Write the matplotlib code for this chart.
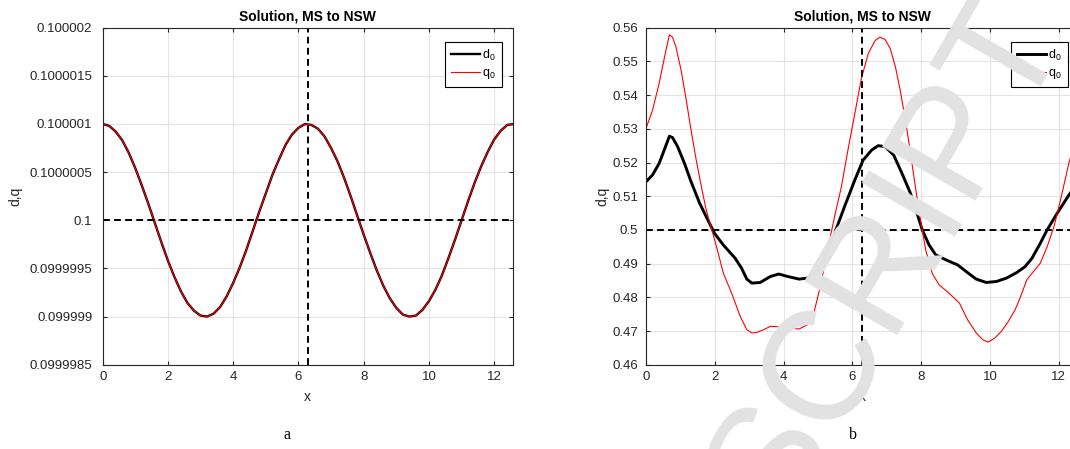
import numpy as np
import matplotlib.pyplot as plt

plt.rcParams['font.family'] = ['Liberation Sans', 'DejaVu Sans']
plt.rcParams['mathtext.default'] = 'regular'

# ---------------- data ----------------
# panel a: deviation from 0.1 in units of 1e-7, sampled every 0.2 in x
x_a = np.arange(64) * 0.2
d0_a_dev = [10.0, 9.8, 9.2, 8.3, 7.0, 5.4, 3.6, 1.7, -0.3, -2.3,
            -4.2, -5.9, -7.4, -8.6, -9.4, -9.9, -10.0, -9.7, -9.0, -7.9,
            -6.5, -4.9, -3.1, -1.1, 0.9, 2.8, 4.7, 6.3, 7.8, 8.9,
            9.6, 10.0, 9.9, 9.5, 8.7, 7.5, 6.1, 4.4, 2.5, 0.5,
            -1.5, -3.4, -5.2, -6.8, -8.1, -9.1, -9.8, -10.0, -9.9, -9.3,
            -8.4, -7.2, -5.7, -3.9, -2.0, 0.0, 2.0, 3.9, 5.6, 7.1,
            8.4, 9.3, 9.9, 10.0]
q0_a_dev = list(d0_a_dev)
base_a = 0.1

# panel b
x_b_d = [0.0, 0.19, 0.38, 0.53, 0.68, 0.77, 0.92, 1.12, 1.31, 1.56,
         1.80, 1.99, 2.25, 2.59, 2.78, 2.93, 3.08, 3.32, 3.62, 3.86,
         4.11, 4.45, 4.70, 4.94, 5.19, 5.52, 5.77, 6.07, 6.31, 6.56,
         6.75, 6.95, 7.20, 7.44, 7.69, 7.88, 8.03, 8.23, 8.42, 8.72,
         9.06, 9.35, 9.60, 9.89, 10.19, 10.48, 10.77, 11.02, 11.22, 11.46,
         11.66, 11.95, 12.29, 12.57]
d0_b = [0.5143, 0.5163, 0.5197, 0.5237, 0.5278, 0.5274, 0.5247, 0.5197, 0.5143, 0.5079,
        0.5029, 0.4990, 0.4955, 0.4916, 0.4886, 0.4854, 0.4842, 0.4844, 0.4862, 0.4869,
        0.4862, 0.4854, 0.4857, 0.4876, 0.4921, 0.5000, 0.5069, 0.5148, 0.5207, 0.5237,
        0.5250, 0.5247, 0.5222, 0.5168, 0.5108, 0.5049, 0.5000, 0.4955, 0.4926, 0.4911,
        0.4896, 0.4873, 0.4854, 0.4844, 0.4847, 0.4857, 0.4873, 0.4891, 0.4916, 0.4960,
        0.5000, 0.5049, 0.5103, 0.5143]

x_b_q = [0.0, 0.19, 0.38, 0.58, 0.68, 0.77, 0.87, 1.02, 1.17, 1.31,
         1.46, 1.61, 1.75, 1.90, 2.05, 2.25, 2.49, 2.74, 2.93, 3.08,
         3.23, 3.42, 3.62, 3.91, 4.21, 4.45, 4.70, 4.89, 5.09, 5.28,
         5.48, 5.68, 5.87, 6.07, 6.26, 6.46, 6.66, 6.80, 6.95, 7.10,
         7.25, 7.39, 7.54, 7.69, 7.83, 7.98, 8.13, 8.32, 8.52, 8.81,
         9.11, 9.35, 9.60, 9.79, 9.94, 10.14, 10.33, 10.53, 10.73, 10.87,
         11.07, 11.26, 11.46, 11.66, 11.86, 12.05, 12.29, 12.57]
q0_b = [0.5301, 0.5355, 0.5434, 0.5533, 0.5579, 0.5572, 0.5543, 0.5474, 0.5385, 0.5296,
        0.5207, 0.5128, 0.5059, 0.5005, 0.4950, 0.4871, 0.4812, 0.4743, 0.4704, 0.4694,
        0.4696, 0.4704, 0.4714, 0.4712, 0.4709, 0.4706, 0.4719, 0.4758, 0.4842, 0.4941,
        0.5039, 0.5128, 0.5237, 0.5345, 0.5449, 0.5523, 0.5562, 0.5572, 0.5565, 0.5538,
        0.5484, 0.5414, 0.5326, 0.5227, 0.5128, 0.5029, 0.4941, 0.4871, 0.4837, 0.4812,
        0.4783, 0.4733, 0.4694, 0.4674, 0.4667, 0.4679, 0.4699, 0.4728, 0.4763, 0.4797,
        0.4852, 0.4876, 0.4901, 0.4950, 0.5010, 0.5089, 0.5197, 0.5301]
base_b = 0.5
x_mark = 2 * np.pi

xticks = [0, 2, 4, 6, 8, 10, 12]
yticks_a = [0.0999985, 0.099999, 0.0999995, 0.1, 0.1000005, 0.100001, 0.1000015, 0.100002]
ylabels_a = ['0.0999985', '0.099999', '0.0999995', '0.1', '0.1000005',
             '0.100001', '0.1000015', '0.100002']
yticks_b = [0.46, 0.47, 0.48, 0.49, 0.5, 0.51, 0.52, 0.53, 0.54, 0.55, 0.56]
ylabels_b = ['0.46', '0.47', '0.48', '0.49', '0.5', '0.51', '0.52', '0.53', '0.54', '0.55', '0.56']

title = 'Solution, MS to NSW'
W, H = 1070, 449
ink = '#262626'

fig = plt.figure(figsize=(W / 100, H / 100), dpi=100)
ax_a = fig.add_axes([102.7 / W, 1 - 364.7 / H, 410 / W, 337 / H])
ax_b = fig.add_axes([646 / W, 1 - 364.7 / H, 432.3 / W, 337 / H])


def style(ax, yt, yl, ylim, ypad):
    ax.set_xlim(0, 4 * np.pi)
    ax.set_ylim(*ylim)
    ax.set_xticks(xticks)
    ax.set_yticks(yt)
    ax.set_yticklabels(yl)
    ax.grid(True, color='#e4e4e4', lw=0.8)
    ax.set_axisbelow(True)
    ax.tick_params(direction='in', top=True, right=True, length=3, width=0.8,
                   colors=ink, labelsize=9.5)
    ax.tick_params(axis='x', pad=4.5)
    ax.tick_params(axis='y', pad=ypad)
    for s in ax.spines.values():
        s.set_color(ink)
        s.set_linewidth(0.8)
    ax.set_title(title, fontsize=10, fontweight='bold', pad=5, color='black')
    ax.set_xlabel('x', fontsize=10, color=ink)
    ax.xaxis.label.set_va('center')
    ax.set_ylabel('d,q', fontsize=10, color=ink)
    ax.yaxis.label.set_va('center')


dash = (0, (3.5, 2.2))

# panel a
d0_a = base_a + np.array(d0_a_dev) * 1e-7
q0_a = base_a + np.array(q0_a_dev) * 1e-7
ax_a.plot(x_a, d0_a, color='black', lw=1.7, label='d$_0$')
ax_a.plot(x_a, q0_a, color='red', lw=0.8, label='q$_0$')
ax_a.axhline(base_a, color='black', lw=1.4, ls=dash)
ax_a.axvline(x_mark, color='black', lw=1.4, ls=dash)
style(ax_a, yticks_a, ylabels_a, (yticks_a[0], yticks_a[-1]), 7.5)
ax_a.xaxis.set_label_coords(0.5, -0.096)
ax_a.yaxis.set_label_coords(-0.212, 0.5)

# panel b
ax_b.plot(x_b_d, d0_b, color='black', lw=2.1, label='d$_0$')
ax_b.plot(x_b_q, q0_b, color='red', lw=0.8, label='q$_0$')
ax_b.axhline(base_b, color='black', lw=1.4, ls=dash)
ax_b.axvline(x_mark, color='black', lw=1.4, ls=dash)
style(ax_b, yticks_b, ylabels_b, (0.46, 0.56), 5.5)
ax_b.xaxis.set_label_coords(0.5, -0.096)
ax_b.yaxis.set_label_coords(-0.102, 0.5)

for ax, lx in [(ax_a, 445), (ax_b, 1011)]:
    leg = ax.legend(loc='upper left', bbox_to_anchor=(lx / W, 1 - 41.5 / H),
                    bbox_transform=fig.transFigure, borderaxespad=0,
                    fontsize=9, handlelength=2.3, handletextpad=0.2,
                    labelspacing=0.35, borderpad=0.5, fancybox=False,
                    framealpha=1, edgecolor='black')
    leg.get_frame().set_linewidth(0.8)

fig.text(287 / W, 1 - 435 / H, 'a', family='Liberation Serif', fontsize=11.5,
         ha='center', va='center')
fig.text(853 / W, 1 - 435 / H, 'b', family='Liberation Serif', fontsize=11.5,
         ha='center', va='center')

# watermark
fig.text(924 / W, 1 - 279 / H, 'SCRIPT', rotation=60, rotation_mode='anchor',
         ha='center', va='baseline', fontsize=112, color='#e2e2e2', zorder=10)

fig.savefig('out.png', dpi=100)
